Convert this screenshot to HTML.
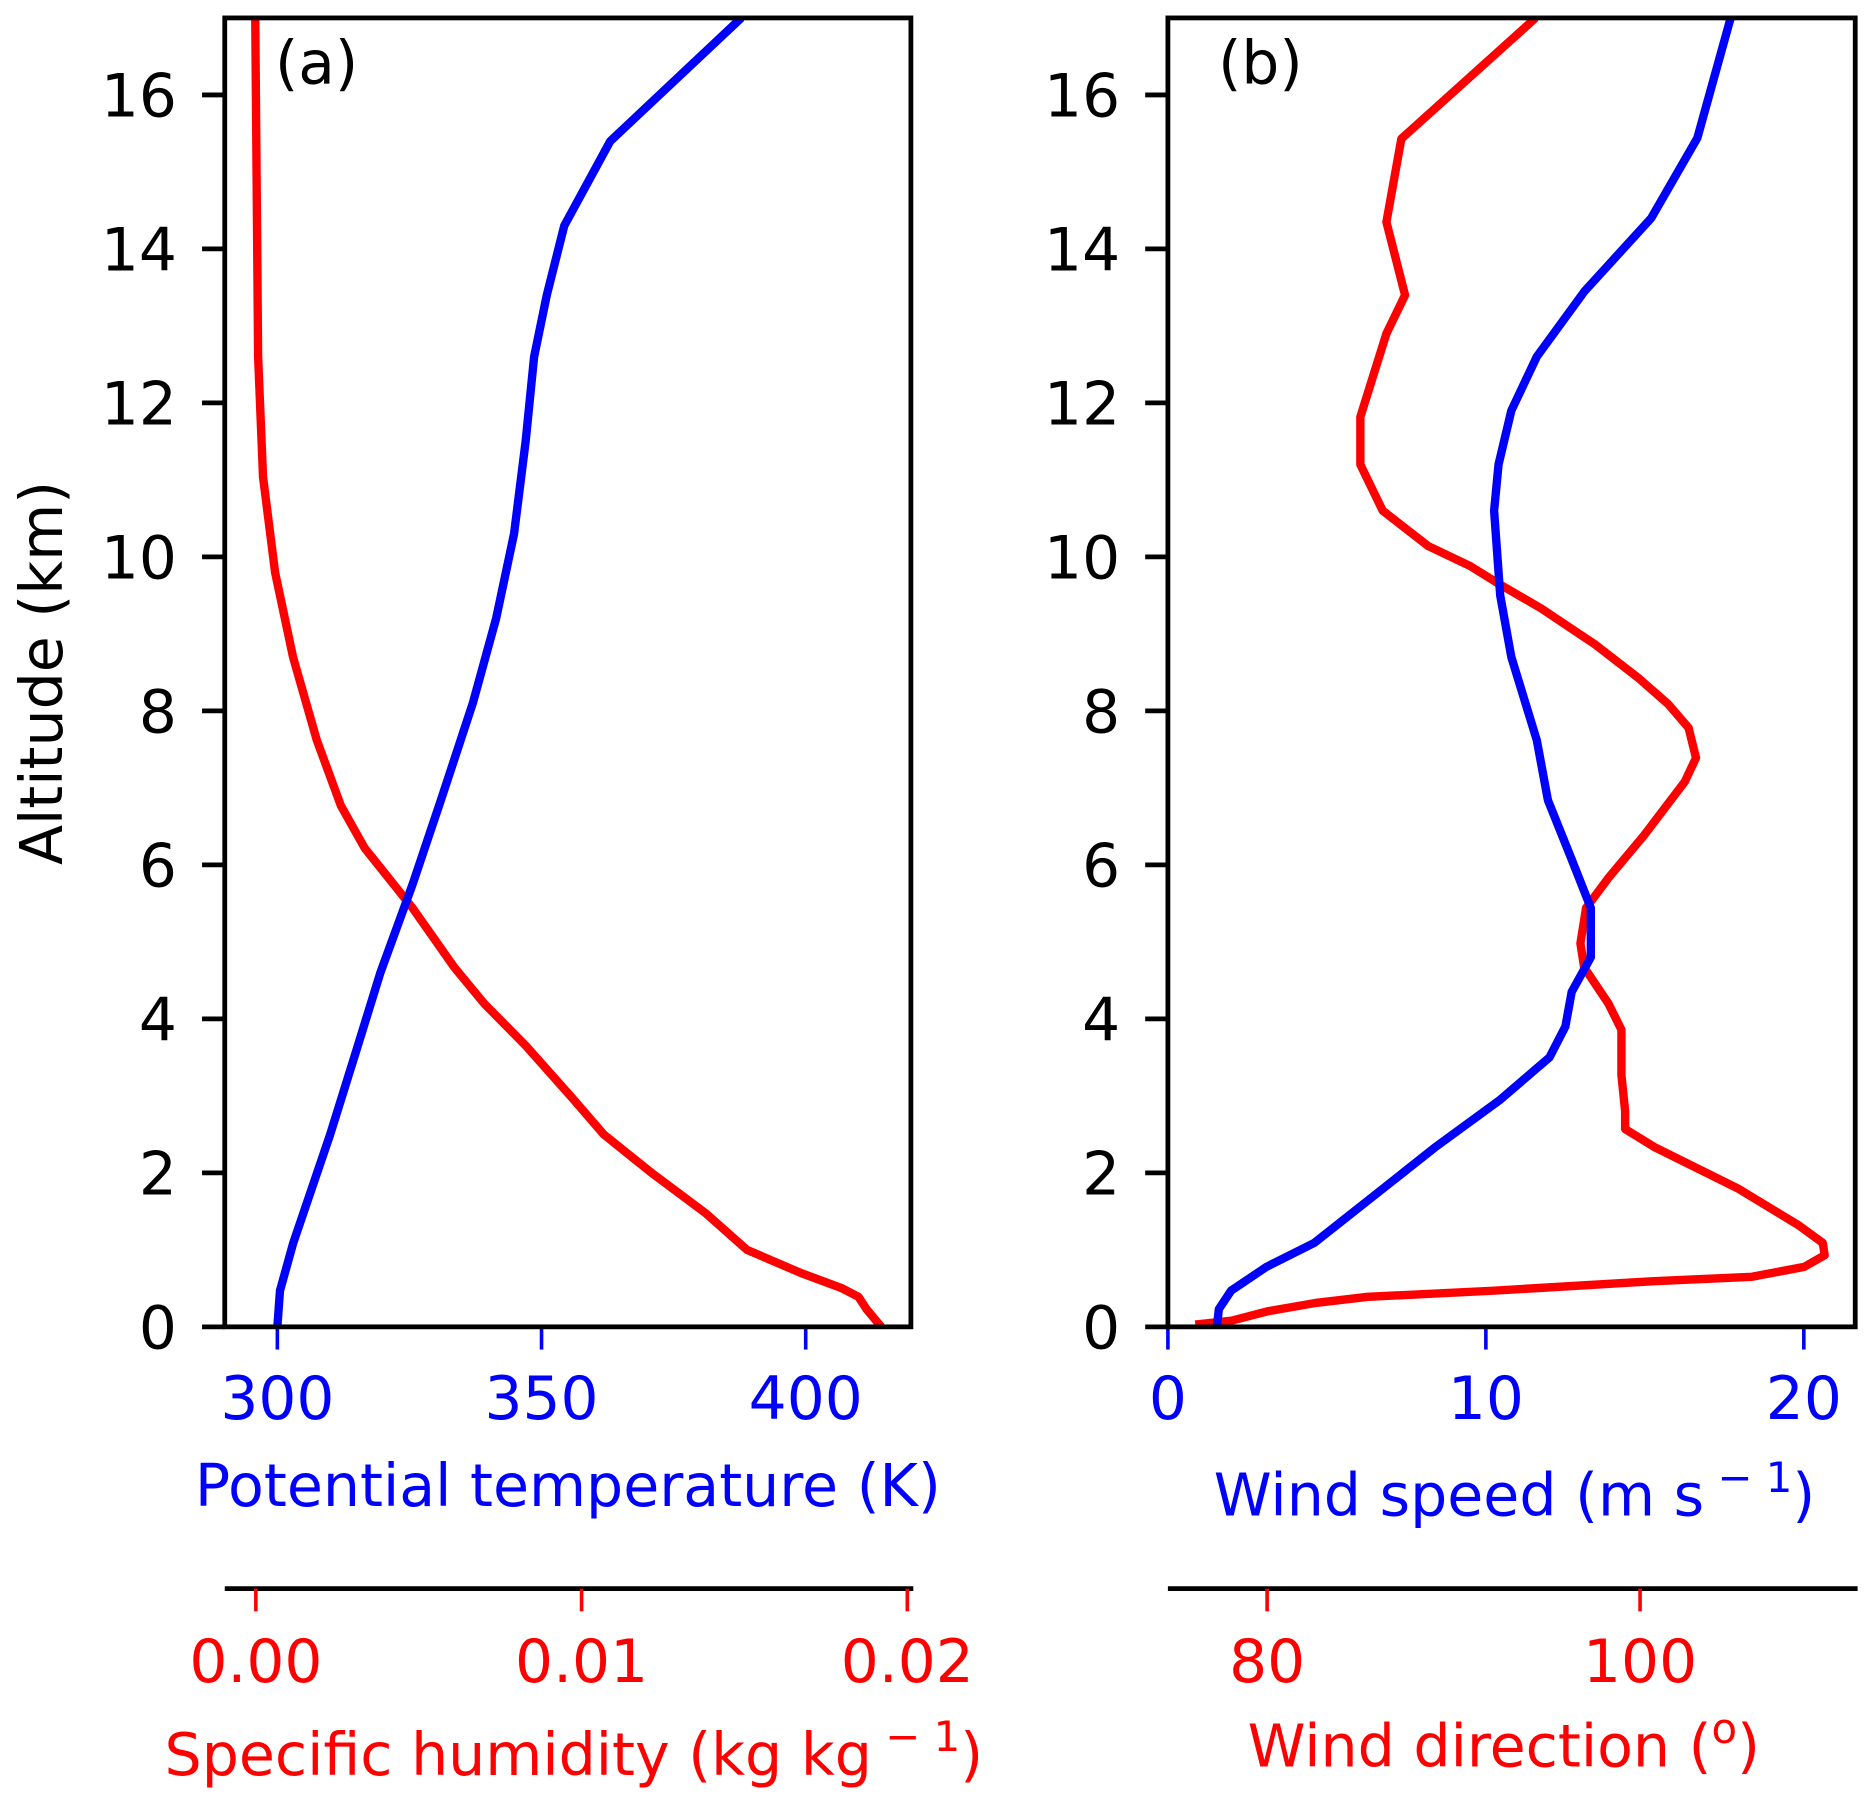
<!DOCTYPE html>
<html><head><meta charset="utf-8"><style>
html,body{margin:0;padding:0;background:#fff;}
svg{display:block;font-family:"DejaVu Sans","Liberation Sans",sans-serif;}
</style></head><body>
<svg id="chart" width="1872" height="1802" viewBox="0 0 1566 1507.5" xmlns="http://www.w3.org/2000/svg">
<g id="panelA"></g>
<g id="panelB"></g>
</svg>
<script>
// ---- data ----
const altTemp = [0,0.47,1.09,2.5,3.6,4.6,5.75,6.85,8.1,9.2,10.3,11.5,12.6,13.4,14.3,15.4,17];
const tempK = [300,300.5,303,310,315,319.5,325.6,331,337,341.4,344.8,347,348.6,351,354.3,363,387.8];
const altHum = [0,0.23,0.39,0.5,0.7,1.0,1.48,2.0,2.5,2.95,3.65,4.2,4.67,5.44,6.22,6.77,7.62,8.7,9.8,11.04,12.6,17];
const humidity = [0.0192,0.01875,0.0185,0.018,0.01673,0.01508,0.0138,0.01215,0.01068,0.00976,0.00829,0.00701,0.00609,0.00481,0.00334,0.00261,0.00187,0.00114,0.00059,0.00022,0.00007,-0.00002];
const altSpeed = [0,0.23,0.47,0.78,1.09,1.71,2.33,2.95,3.5,3.9,4.35,4.8,5.44,6.07,6.84,7.62,8.7,9.5,10.6,11.2,11.9,12.6,13.45,14.4,15.44,17];
const windSpeed = [1.54,1.6,1.99,3.1,4.6,6.5,8.4,10.45,12,12.5,12.7,13.3,13.3,12.7,11.95,11.6,10.8,10.45,10.26,10.4,10.8,11.6,13.1,15.2,16.65,17.7];
const altDir = [0.03,0.08,0.2,0.31,0.39,0.47,0.59,0.65,0.78,0.93,1.09,1.32,1.79,2.33,2.57,2.8,3.27,3.86,4.2,4.67,4.98,5.44,5.83,6.38,7.08,7.39,7.78,8.09,8.43,8.86,9.33,9.64,9.88,10.14,10.6,11.2,11.82,12.9,13.4,14.35,15.43,17];
const windDir = [76.15,78.1,80,82.6,85.4,92.2,100.5,106,108.8,109.9,109.8,108.5,105.3,100.8,99.2,99.2,99,99,98.3,97,96.8,97.1,98.3,100.2,102.4,103,102.6,101.5,99.9,97.6,94.7,92.5,90.9,88.65,86.2,85,85,86.4,87.4,86.4,87.2,94.4];
const yTicks = [0,2,4,6,8,10,12,14,16];
const tempTicks = [300,350,400];
const humTicks = [0.00,0.01,0.02];
const humTickLabels = ["0.00","0.01","0.02"];
const speedTicks = [0,10,20];
const dirTicks = [80,100];

const NS="http://www.w3.org/2000/svg";
function el(tag, attrs, parent){const e=document.createElementNS(NS,tag);for(const k in attrs)e.setAttribute(k,attrs[k]);parent.appendChild(e);return e;}
const plotTop=15, plotBot=1110;
const yS = v => plotBot - (v/17)*(plotBot-plotTop);
function lin(d0,d1,r0,r1){return v=>r0+(v-d0)/(d1-d0)*(r1-r0);}
const FS=50;

function panel(g, L, R, xA, xB, botTicks, botLabels, secTicks, secLabels, tag){
  yTicks.forEach(t=>{
    const y=yS(t);
    const tk=el('line',{x1:L-19,x2:L,y1:y,y2:y,stroke:'#000','stroke-width':4},g);
    
    
    const tx=el('text',{x:L-40,y:y+18,'text-anchor':'end','font-size':FS,fill:'#000'},g);
    
    
    tx.textContent=t;
  });
  botTicks.forEach((t,i)=>{
    const x=xA(t);
    const tk=el('line',{x1:x,x2:x,y1:plotBot,y2:plotBot+19,stroke:'#0000ff','stroke-width':3},g);
    
    
    const tx=el('text',{x:x,y:1187,'text-anchor':'middle','font-size':FS,fill:'#0000ff'},g);
    
    
    tx.textContent=botLabels[i];
  });
  const sp=el('line',{x1:L,x2:R+2,y1:1329,y2:1329,stroke:'#000','stroke-width':4},g);
  
  
  secTicks.forEach((t,i)=>{
    const x=xB(t);
    const tk=el('line',{x1:x,x2:x,y1:1329,y2:1348,stroke:'#ff0000','stroke-width':3},g);
    
    
    const tx=el('text',{x:x,y:1407,'text-anchor':'middle','font-size':FS,fill:'#ff0000'},g);
    
    
    tx.textContent=secLabels[i];
  });
  const fr=el('rect',{x:L,y:plotTop,width:R-L,height:plotBot-plotTop,fill:'none',stroke:'#000','stroke-width':4},g);
  
  
  const t=el('text',{x:L+42,y:70,'font-size':FS,fill:'#000'},g);
  
  
  t.textContent=tag;
}
function series(g, xs, ys, xf, color, name, L, R){
  const pts=xs.map((v,i)=>xf(v).toFixed(1)+','+yS(ys[i]).toFixed(1)).join(' ');
  const cp=el('clipPath',{id:'c'+name},g);
  el('rect',{x:L,y:plotTop,width:R-L+30,height:plotBot-plotTop},cp);
  const p=el('polyline',{points:pts,fill:'none',stroke:color,'stroke-width':7,'stroke-linejoin':'round','clip-path':'url(#c'+name+')'},g);
  
  
}

const gA=document.getElementById('panelA');
const LA=188,RA=762;
const tX=lin(300,400,232,674), qX=lin(0,0.02,214,759);
series(gA,humidity,altHum,qX,'#ff0000','humidity-line',LA,RA);
series(gA,tempK,altTemp,tX,'#0000ff','temperature-line',LA,RA);
panel(gA,LA,RA,tX,qX,tempTicks,tempTicks.map(String),humTicks,humTickLabels,'(a)');

const gB=document.getElementById('panelB');
const LB=977,RB=1552;
const sX=lin(0,20,977,1509), dX=lin(80,100,1060,1372);
series(gB,windDir,altDir,dX,'#ff0000','wind-direction-line',LB,RB);
series(gB,windSpeed,altSpeed,sX,'#0000ff','wind-speed-line',LB,RB);
panel(gB,LB,RB,sX,dX,speedTicks,speedTicks.map(String),dirTicks,dirTicks.map(String),'(b)');
</script>
<svg style="position:absolute;left:0;top:0" width="1872" height="1802" viewBox="0 0 1566 1507.5">
<g font-family="DejaVu Sans, Liberation Sans, sans-serif" font-size="49">
<text x="0" y="0" transform="translate(52,563) rotate(-90)" text-anchor="middle" fill="#000">Altitude (km)</text>
<text x="475" y="1260" text-anchor="middle" fill="#0000ff">Potential temperature (K)</text>
<text x="1267" y="1268" text-anchor="middle" fill="#0000ff">Wind speed (m s<tspan font-size="35" dy="-20"> − 1</tspan><tspan dy="20">)</tspan></text>
<text x="480" y="1485" text-anchor="middle" fill="#ff0000">Specific humidity (kg kg<tspan font-size="35" dy="-20"> − 1</tspan><tspan dy="20">)</tspan></text>
<text x="1258" y="1478" text-anchor="middle" fill="#ff0000">Wind direction (<tspan font-size="35" dy="-20">o</tspan><tspan dy="20">)</tspan></text>
</g>
</svg>
</body></html>
